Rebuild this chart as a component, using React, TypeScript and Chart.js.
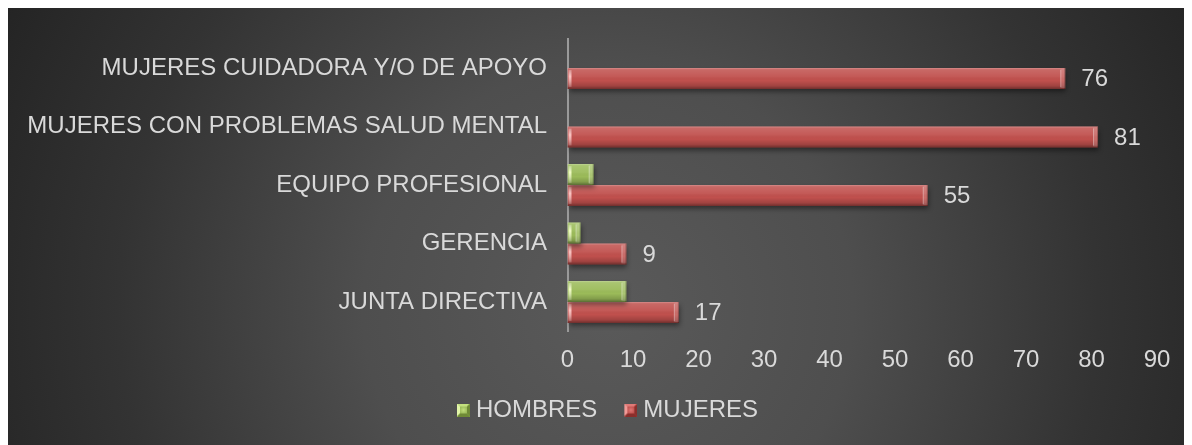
import React, { useEffect, useRef } from 'react';
import { Chart, registerables } from 'chart.js';

Chart.register(...registerables);

const categories = [
  'MUJERES CUIDADORA Y/O DE APOYO',
  'MUJERES CON PROBLEMAS SALUD MENTAL',
  'EQUIPO PROFESIONAL',
  'GERENCIA',
  'JUNTA DIRECTIVA',
];
const hombres = [0, 0, 4, 2, 9];
const mujeres = [76, 81, 55, 9, 17];
const seriesNames = ['HOMBRES', 'MUJERES'];
const seriesColors = ['#9BBB59', '#C0504D'];
const seriesHighlights = ['rgba(245,255,200,0.95)', 'rgba(255,200,198,0.95)'];
const xMin = 0;
const xMax = 90;
const xStep = 10;
const labelledSeries = 1;

const TEXT = '#d9d9d9';
const FONT = "'Liberation Sans', Arial, sans-serif";

function makeMarker(base: string, light: string, dark: string, hi: string) {
  // 22px wide canvas, the 13px bevelled square sits in its right part
  const c = document.createElement('canvas');
  c.width = 22;
  c.height = 13;
  const g = c.getContext('2d')!;
  g.translate(9, 0);
  const s = 13;
  const i = 3;
  g.fillStyle = base;
  g.fillRect(0, 0, s, s);
  g.fillStyle = light;
  g.beginPath(); g.moveTo(0, 0); g.lineTo(s, 0); g.lineTo(s - i, i); g.lineTo(i, i); g.closePath(); g.fill();
  g.fillStyle = hi;
  g.beginPath(); g.moveTo(0, 0); g.lineTo(i, i); g.lineTo(i, s - i); g.lineTo(0, s); g.closePath(); g.fill();
  g.fillStyle = dark;
  g.beginPath(); g.moveTo(s, 0); g.lineTo(s, s); g.lineTo(s - i, s - i); g.lineTo(s - i, i); g.closePath(); g.fill();
  g.beginPath(); g.moveTo(0, s); g.lineTo(s, s); g.lineTo(s - i, s - i); g.lineTo(i, s - i); g.closePath(); g.fill();
  const cg = g.createRadialGradient(s / 2, s / 2, 0, s / 2, s / 2, 4);
  cg.addColorStop(0, light);
  cg.addColorStop(1, base);
  g.fillStyle = cg;
  g.fillRect(i, i, s - 2 * i, s - 2 * i);
  return c;
}

const backgroundPlugin = {
  id: 'bgRadial',
  beforeDraw(chart: any) {
    const { ctx, width, height } = chart;
    ctx.save();
    const g = ctx.createRadialGradient(600, 300, 0, 600, 300, 700);
    g.addColorStop(0, '#5a5a5a');
    g.addColorStop(0.35, '#4e4e4e');
    g.addColorStop(0.7, '#333333');
    g.addColorStop(1, '#222222');
    ctx.fillStyle = g;
    ctx.fillRect(0, 0, width, height);
    ctx.restore();
  },
};

const legendShiftPlugin = {
  id: 'legendShift',
  afterLayout(chart: any) {
    const lg = chart.legend;
    if (!lg) return;
    const shift = 19.5;
    lg.left += shift;
    lg.right += shift;
  },
};

const bevelPlugin = {
  id: 'bevelBars',
  beforeDatasetDraw(chart: any) {
    const ctx = chart.ctx;
    ctx.save();
    ctx.shadowColor = 'rgba(0,0,0,0.45)';
    ctx.shadowBlur = 5;
    ctx.shadowOffsetX = 1;
    ctx.shadowOffsetY = 3;
  },
  afterDatasetDraw(chart: any, args: any) {
    const ctx = chart.ctx;
    ctx.restore();
    const meta = args.meta;
    const idx = args.index;
    ctx.save();
    meta.data.forEach((el: any) => {
      const { x, y, base, height } = el.getProps(['x', 'y', 'base', 'height'], true);
      const l = Math.min(x, base);
      const r = Math.max(x, base);
      const w = r - l;
      const t = y - height / 2;
      const b = y + height / 2;
      const lg = ctx.createLinearGradient(0, t, 0, b);
      lg.addColorStop(0, 'rgba(255,255,255,0.05)');
      lg.addColorStop(0.4, seriesHighlights[idx]);
      lg.addColorStop(1, 'rgba(255,255,255,0.05)');
      if (w < 0.5) return;
      const g = ctx.createLinearGradient(0, t, 0, b);
      g.addColorStop(0, 'rgba(255,255,255,0.35)');
      g.addColorStop(0.08, 'rgba(255,255,255,0.14)');
      g.addColorStop(0.4, 'rgba(255,255,255,0.06)');
      g.addColorStop(0.6, 'rgba(0,0,0,0)');
      g.addColorStop(0.85, 'rgba(0,0,0,0.16)');
      g.addColorStop(1, 'rgba(0,0,0,0.42)');
      ctx.fillStyle = g;
      ctx.fillRect(l, t, w, height);
      const bw = Math.min(5, w / 2);
      ctx.fillStyle = 'rgba(255,255,255,0.16)';
      ctx.fillRect(r - bw, t + 1, bw, height - 2);
      ctx.fillStyle = 'rgba(255,255,255,0.3)';
      ctx.fillRect(r - bw, t + 2, 1, height - 4);
      ctx.fillStyle = 'rgba(0,0,0,0.25)';
      ctx.fillRect(r - 1, t, 1, height);
      ctx.fillStyle = lg;
      ctx.fillRect(l + 1, t + 2, Math.min(3, w), height - 4);
    });
    ctx.restore();
  },
};

const valueLabelPlugin = {
  id: 'valueLabels',
  afterDatasetsDraw(chart: any) {
    const ctx = chart.ctx;
    const meta = chart.getDatasetMeta(labelledSeries);
    const data = chart.data.datasets[labelledSeries].data;
    ctx.save();
    ctx.fillStyle = TEXT;
    ctx.font = `24px ${FONT}`;
    ctx.textAlign = 'left';
    ctx.textBaseline = 'middle';
    meta.data.forEach((el: any, i: number) => {
      const { x, y } = el.getProps(['x', 'y'], true);
      ctx.fillText(String(data[i]), x + 16, y + 1);
    });
    ctx.restore();
  },
};

export default function App() {
  const ref = useRef<HTMLCanvasElement>(null);
  useEffect(() => {
    document.documentElement.style.overflow = 'hidden';
    document.body.style.overflow = 'hidden';
    const markers = [
      makeMarker('#9BBB59', '#c3e07e', '#6f8a36', '#e2f5a8'),
      makeMarker('#C0504D', '#e07a77', '#8a2e2b', '#f09a97'),
    ];
    const chart = new Chart(ref.current!, {
      type: 'bar',
      data: {
        labels: categories,
        datasets: [
          {
            label: seriesNames[0],
            data: hombres,
            backgroundColor: seriesColors[0],
            borderWidth: 0,
            categoryPercentage: 0.718,
            barPercentage: 1,
          },
          {
            label: seriesNames[1],
            data: mujeres,
            backgroundColor: seriesColors[1],
            borderWidth: 0,
            categoryPercentage: 0.718,
            barPercentage: 1,
          },
        ],
      },
      options: {
        indexAxis: 'y',
        animation: false,
        responsive: false,
        devicePixelRatio: 1,
        layout: { padding: { top: 30.75, right: 35, bottom: 13, left: 8 } },
        scales: {
          x: {
            min: xMin,
            max: xMax,
            grid: { display: false, drawTicks: false },
            border: { display: false },
            ticks: {
              stepSize: xStep,
              color: TEXT,
              font: { family: FONT, size: 24 },
              padding: 14.35,
            },
            afterFit(scale: any) {
              scale.height = 42.75;
            },
          },
          y: {
            grid: {
              display: true,
              drawOnChartArea: false,
              drawTicks: true,
              tickLength: 20.5,
              color: 'rgba(0,0,0,0)',
            },
            border: { display: true, color: '#9a9a9a', width: 2 },
            ticks: {
              color: TEXT,
              font: { family: FONT, size: 24 },
              padding: 0,
              autoSkip: false,
            },
            afterFit(scale: any) {
              scale.width = 551.5;
            },
          },
        },
        plugins: {
          legend: {
            display: true,
            position: 'bottom',
            labels: {
              color: TEXT,
              font: { family: FONT, size: 24 },
              usePointStyle: true,
              pointStyleWidth: 10,
              boxWidth: 13,
              boxHeight: 13,
              padding: 24,
              generateLabels(c: any) {
                const items = Chart.defaults.plugins.legend.labels.generateLabels(c);
                return items.map((it: any, i: number) => ({ ...it, pointStyle: markers[i] }));
              },
            },
          },
          tooltip: { enabled: false },
        },
      } as any,
      plugins: [backgroundPlugin, legendShiftPlugin, bevelPlugin, valueLabelPlugin],
    });
    return () => chart.destroy();
  }, []);
  return (
    <div style={{ width: 1184, height: 437 }}>
      <canvas ref={ref} width={1184} height={437} style={{ display: 'block', width: 1184, height: 437 }} />
    </div>
  );
}
